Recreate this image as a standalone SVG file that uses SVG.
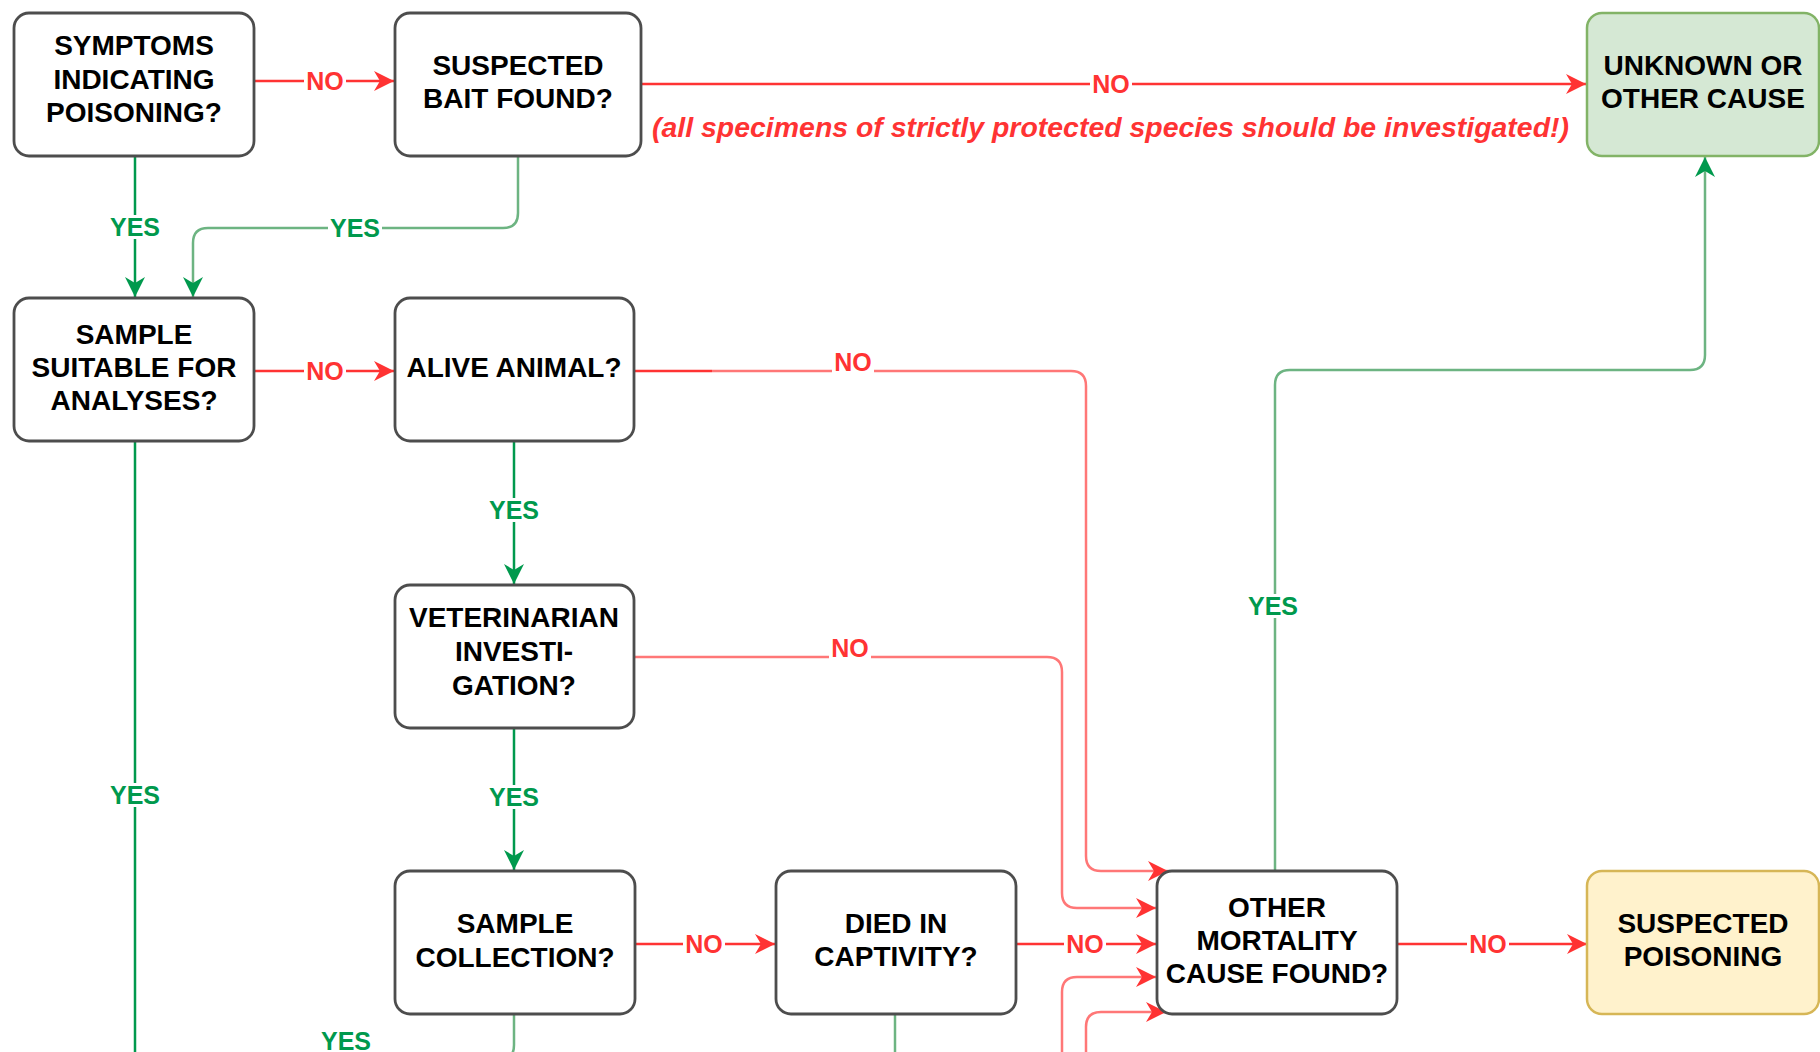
<svg xmlns="http://www.w3.org/2000/svg" width="1820" height="1052" viewBox="0 0 1820 1052">
<style>
.node{fill:#ffffff;stroke:#4d4d4d;stroke-width:2.8}
.t{font-family:"Liberation Sans",Arial,sans-serif;font-weight:bold;font-size:28px;fill:#000;text-anchor:middle}
.lbl{font-family:"Liberation Sans",Arial,sans-serif;font-weight:bold;font-size:25px;text-anchor:middle}
.r{fill:#FF3333}.g{fill:#00994D}
.lr{fill:none;stroke:#FF3333;stroke-width:2.5}
.lrp{fill:none;stroke:#FF7777;stroke-width:2.5}
.lg{fill:none;stroke:#00994D;stroke-width:2.5}
.lgp{fill:none;stroke:#6DB482;stroke-width:2.5}
.bg{fill:#ffffff}
</style>
<defs>
<marker id="ar" markerUnits="userSpaceOnUse" markerWidth="21" markerHeight="20" refX="20" refY="10" orient="auto"><path d="M0,0 L20,10 L0,20 L6,10 Z" fill="#FF3333"/></marker>
<marker id="ag" markerUnits="userSpaceOnUse" markerWidth="21" markerHeight="20" refX="20" refY="10" orient="auto"><path d="M0,0 L20,10 L0,20 L6,10 Z" fill="#00994D"/></marker>
</defs>
<g id="connectors">
<path class="lr" d="M254,81 H394" marker-end="url(#ar)"/>
<path class="lg" d="M135,156 V297" marker-end="url(#ag)"/>
<path class="lgp" d="M518,156 V213 Q518,228 503,228 H208 Q193,228 193,243 V297" marker-end="url(#ag)"/>
<path class="lr" d="M641,84 H1586" marker-end="url(#ar)"/>
<path class="lr" d="M254,371 H394" marker-end="url(#ar)"/>
<path class="lr" d="M634,371 H712"/>
<path class="lrp" d="M712,371 H1071 Q1086,371 1086,386 V856 Q1086,871 1101,871 H1168" marker-end="url(#ar)"/>
<path class="lrp" d="M634,657 H1047 Q1062,657 1062,672 V893 Q1062,908 1077,908 H1156" marker-end="url(#ar)"/>
<path class="lg" d="M514,441 V584" marker-end="url(#ag)"/>
<path class="lg" d="M514,728 V870" marker-end="url(#ag)"/>
<path class="lr" d="M636,944 H775" marker-end="url(#ar)"/>
<path class="lr" d="M1016,944 H1156" marker-end="url(#ar)"/>
<path class="lr" d="M1397,944 H1587" marker-end="url(#ar)"/>
<path class="lgp" d="M1275,871 V385 Q1275,370 1290,370 H1690 Q1705,370 1705,355 V157" marker-end="url(#ag)"/>
<path class="lg" d="M135,442 V1060"/>
<path class="lgp" d="M514,1014 V1045 Q514,1060 499,1060 H300"/>
<path class="lgp" d="M895,1014 V1060"/>
<path class="lrp" d="M1062,1060 V992 Q1062,977 1077,977 H1156" marker-end="url(#ar)"/>
<path class="lrp" d="M1086,1060 V1027 Q1086,1012 1101,1012 H1166" marker-end="url(#ar)"/>
<rect class="bg" x="304" y="69" width="42" height="24"/><text class="lbl r" x="325" y="90">NO</text>
<rect class="bg" x="108" y="215" width="54" height="24"/><text class="lbl g" x="135" y="236">YES</text>
<rect class="bg" x="328" y="216" width="54" height="24"/><text class="lbl g" x="355" y="237">YES</text>
<rect class="bg" x="1090" y="72" width="42" height="24"/><text class="lbl r" x="1111" y="93">NO</text>
<rect class="bg" x="304" y="359" width="42" height="24"/><text class="lbl r" x="325" y="380">NO</text>
<rect class="bg" x="832" y="350" width="42" height="24"/><text class="lbl r" x="853" y="371">NO</text>
<rect class="bg" x="829" y="636" width="42" height="24"/><text class="lbl r" x="850" y="657">NO</text>
<rect class="bg" x="487" y="498" width="54" height="24"/><text class="lbl g" x="514" y="519">YES</text>
<rect class="bg" x="487" y="785" width="54" height="24"/><text class="lbl g" x="514" y="806">YES</text>
<rect class="bg" x="683" y="932" width="42" height="24"/><text class="lbl r" x="704" y="953">NO</text>
<rect class="bg" x="1064" y="932" width="42" height="24"/><text class="lbl r" x="1085" y="953">NO</text>
<rect class="bg" x="1467" y="932" width="42" height="24"/><text class="lbl r" x="1488" y="953">NO</text>
<rect class="bg" x="1246" y="594" width="54" height="24"/><text class="lbl g" x="1273" y="615">YES</text>
<rect class="bg" x="108" y="783" width="54" height="24"/><text class="lbl g" x="135" y="804">YES</text>
<text class="lbl g" x="346" y="1050">YES</text>
<text x="652" y="137" font-family="'Liberation Sans',Arial,sans-serif" font-weight="bold" font-style="italic" font-size="28" fill="#FF3333" textLength="917" lengthAdjust="spacingAndGlyphs">(all specimens of strictly protected species should be investigated!)</text>
</g>
<g id="n-symptoms"><rect class="node" x="14" y="13" width="240" height="143" rx="15"/>
<text class="t" x="134" y="55">SYMPTOMS</text><text class="t" x="134" y="89">INDICATING</text><text class="t" x="134" y="122">POISONING?</text></g>
<g id="n-bait"><rect class="node" x="395" y="13" width="246" height="143" rx="15"/>
<text class="t" x="518" y="75">SUSPECTED</text><text class="t" x="518" y="108">BAIT FOUND?</text></g>
<g id="n-unknown"><rect x="1587" y="13" width="232" height="143" rx="15" fill="#d5e8d4" stroke="#82b366" stroke-width="2.5"/>
<text class="t" x="1703" y="75">UNKNOWN OR</text><text class="t" x="1703" y="108">OTHER CAUSE</text></g>
<g id="n-sample-suitable"><rect class="node" x="14" y="298" width="240" height="143" rx="15"/>
<text class="t" x="134" y="344">SAMPLE</text><text class="t" x="134" y="377">SUITABLE FOR</text><text class="t" x="134" y="410">ANALYSES?</text></g>
<g id="n-alive"><rect class="node" x="395" y="298" width="239" height="143" rx="15"/>
<text class="t" x="514" y="377">ALIVE ANIMAL?</text></g>
<g id="n-vet"><rect class="node" x="395" y="585" width="239" height="143" rx="15"/>
<text class="t" x="514" y="627">VETERINARIAN</text><text class="t" x="514" y="661">INVESTI-</text><text class="t" x="514" y="695">GATION?</text></g>
<g id="n-collection"><rect class="node" x="395" y="871" width="240" height="143" rx="15"/>
<text class="t" x="515" y="933">SAMPLE</text><text class="t" x="515" y="967">COLLECTION?</text></g>
<g id="n-captivity"><rect class="node" x="776" y="871" width="240" height="143" rx="15"/>
<text class="t" x="896" y="933">DIED IN</text><text class="t" x="896" y="966">CAPTIVITY?</text></g>
<g id="n-other"><rect class="node" x="1157" y="871" width="240" height="143" rx="15"/>
<text class="t" x="1277" y="917">OTHER</text><text class="t" x="1277" y="950">MORTALITY</text><text class="t" x="1277" y="983">CAUSE FOUND?</text></g>
<g id="n-poisoning"><rect x="1587" y="871" width="232" height="143" rx="15" fill="#fff2cc" stroke="#d6b656" stroke-width="2.5"/>
<text class="t" x="1703" y="933">SUSPECTED</text><text class="t" x="1703" y="966">POISONING</text></g>
</svg>
